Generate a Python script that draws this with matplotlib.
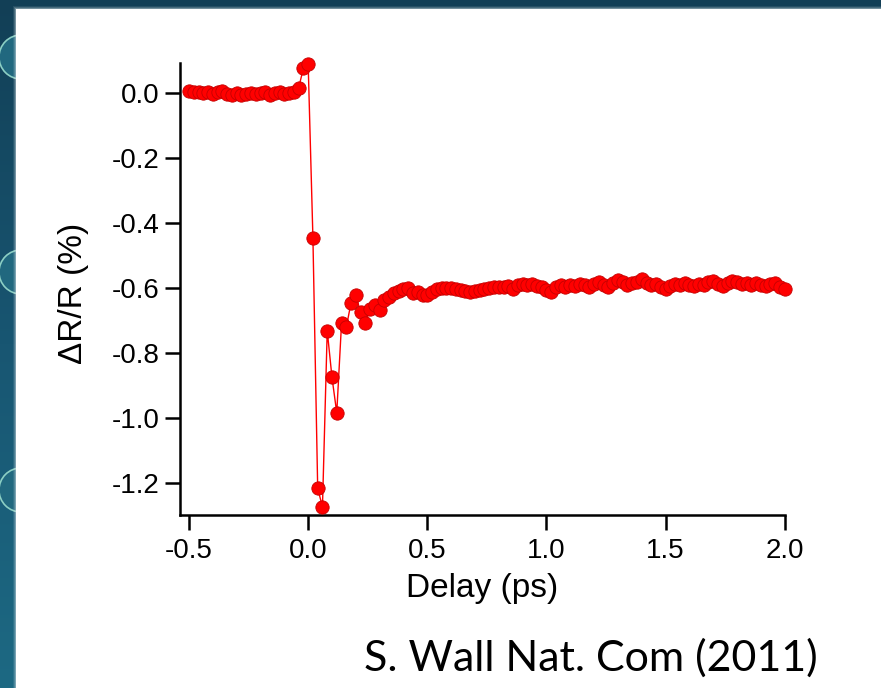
import numpy as np
import matplotlib.pyplot as plt
from matplotlib.patches import Rectangle, Circle

plt.rcParams['axes.unicode_minus'] = False
plt.rcParams['font.family'] = ['Liberation Sans', 'DejaVu Sans']

# pump-probe trace, delay in ps and reflectivity change in %
delay = [
    -0.50, -0.48, -0.46, -0.44, -0.42, -0.40, -0.38, -0.36, -0.34, -0.32,
    -0.30, -0.28, -0.26, -0.24, -0.22, -0.20, -0.18, -0.16, -0.14, -0.12,
    -0.10, -0.08, -0.06, -0.04, -0.02, 0.00, 0.02, 0.04, 0.06, 0.08,
    0.10, 0.12, 0.14, 0.16, 0.18, 0.20, 0.22, 0.24, 0.26, 0.28,
    0.30, 0.32, 0.34, 0.36, 0.38, 0.40, 0.42, 0.44, 0.46, 0.48,
    0.50, 0.52, 0.54, 0.56, 0.58, 0.60, 0.62, 0.64, 0.66, 0.68,
    0.70, 0.72, 0.74, 0.76, 0.78, 0.80, 0.82, 0.84, 0.86, 0.88,
    0.90, 0.92, 0.94, 0.96, 0.98, 1.00, 1.02, 1.04, 1.06, 1.08,
    1.10, 1.12, 1.14, 1.16, 1.18, 1.20, 1.22, 1.24, 1.26, 1.28,
    1.30, 1.32, 1.34, 1.36, 1.38, 1.40, 1.42, 1.44, 1.46, 1.48,
    1.50, 1.52, 1.54, 1.56, 1.58, 1.60, 1.62, 1.64, 1.66, 1.68,
    1.70, 1.72, 1.74, 1.76, 1.78, 1.80, 1.82, 1.84, 1.86, 1.88,
    1.90, 1.92, 1.94, 1.96, 1.98, 2.00,
]
dr_r = [
    0.005, 0.003, 0.002, 0.000, 0.004, -0.004, 0.002, 0.006, -0.003, -0.006,
    0.001, -0.005, -0.002, 0.000, -0.004, -0.001, 0.003, -0.005, 0.001, 0.004,
    -0.003, 0.000, 0.004, 0.015, 0.076, 0.089, -0.447, -1.216, -1.273, -0.731,
    -0.875, -0.984, -0.709, -0.721, -0.645, -0.622, -0.675, -0.709, -0.666, -0.652,
    -0.668, -0.637, -0.627, -0.616, -0.608, -0.603, -0.601, -0.614, -0.611, -0.620,
    -0.620, -0.611, -0.603, -0.599, -0.599, -0.601, -0.604, -0.606, -0.609, -0.611,
    -0.609, -0.606, -0.603, -0.600, -0.598, -0.596, -0.597, -0.594, -0.603, -0.590,
    -0.588, -0.592, -0.589, -0.594, -0.598, -0.606, -0.611, -0.598, -0.592, -0.596,
    -0.590, -0.594, -0.588, -0.592, -0.596, -0.587, -0.580, -0.590, -0.598, -0.586,
    -0.575, -0.582, -0.592, -0.586, -0.581, -0.572, -0.584, -0.592, -0.588, -0.596,
    -0.602, -0.594, -0.588, -0.592, -0.586, -0.590, -0.594, -0.588, -0.591, -0.582,
    -0.578, -0.588, -0.594, -0.586, -0.577, -0.583, -0.587, -0.584, -0.590, -0.586,
    -0.592, -0.594, -0.588, -0.584, -0.596, -0.604,
]
x_ticks = [-0.5, 0.0, 0.5, 1.0, 1.5, 2.0]
y_ticks = [0.0, -0.2, -0.4, -0.6, -0.8, -1.0, -1.2]

W, H = 881, 688
fig = plt.figure(figsize=(W / 100, H / 100), dpi=100)

# slide background: teal frame with rings on the left edge, white panel
bg = fig.add_axes([0, 0, 1, 1])
bg.set_xlim(0, W)
bg.set_ylim(H, 0)
bg.axis('off')
grad = np.linspace(0, 1, 256).reshape(-1, 1)
bg.imshow(grad, extent=[0, W, H, 0], aspect='auto',
          cmap=plt.matplotlib.colors.LinearSegmentedColormap.from_list(
              'frame', ['#123f56', '#185672', '#1d6983']))
for cy in [57, 272, 490]:
    bg.add_patch(Circle((21, cy), 22, facecolor='#21687f', edgecolor='#8ccfc4',
                        linewidth=1.2))
for k, a in enumerate([0.10, 0.18, 0.30]):
    bg.add_patch(Rectangle((13 + k, 6 + k), W, H, facecolor='#dfe6ea',
                           edgecolor='none', alpha=a))
bg.add_patch(Rectangle((16, 9), W, H, facecolor='white', edgecolor='none'))

ax = fig.add_axes([179.5 / W, 1 - 515 / H, 605.2 / W, 451.7 / H])
ax.patch.set_alpha(0)
ax.plot(delay, dr_r, color='#ff0000', linewidth=1.0, marker='o', markersize=9.6,
        markerfacecolor='#ff0000', markeredgecolor='#c40000', markeredgewidth=0.6,
        clip_on=False, zorder=3)

ax.set_xlim(-0.54, 2.0)
ax.set_ylim(-1.298, 0.091)
ax.set_xticks(x_ticks)
ax.set_yticks(y_ticks)
ax.set_xticklabels([f'{v:.1f}' for v in x_ticks])
ax.set_yticklabels([f'{v:.1f}' for v in y_ticks])

for side in ['top', 'right']:
    ax.spines[side].set_visible(False)
for side in ['left', 'bottom']:
    ax.spines[side].set_linewidth(1.8)
ax.tick_params(direction='out', length=10.5, width=1.8, labelsize=20)
ax.tick_params(axis='x', pad=6)
ax.tick_params(axis='y', pad=4)

ax.set_xlabel('Delay (ps)', fontsize=24)
ax.set_ylabel('\u0394R/R (%)', fontsize=24)
ax.xaxis.set_label_coords(0.5, -0.128)
ax.yaxis.set_label_coords(-0.15, 0.49)

fig.text(818 / W, 1 - 658 / H, 'S. Wall Nat. Com (2011)', family=['Lato', 'DejaVu Sans'],
         fontsize=31, ha='right', va='center', color='black')

fig.savefig('out.png', dpi=100)
